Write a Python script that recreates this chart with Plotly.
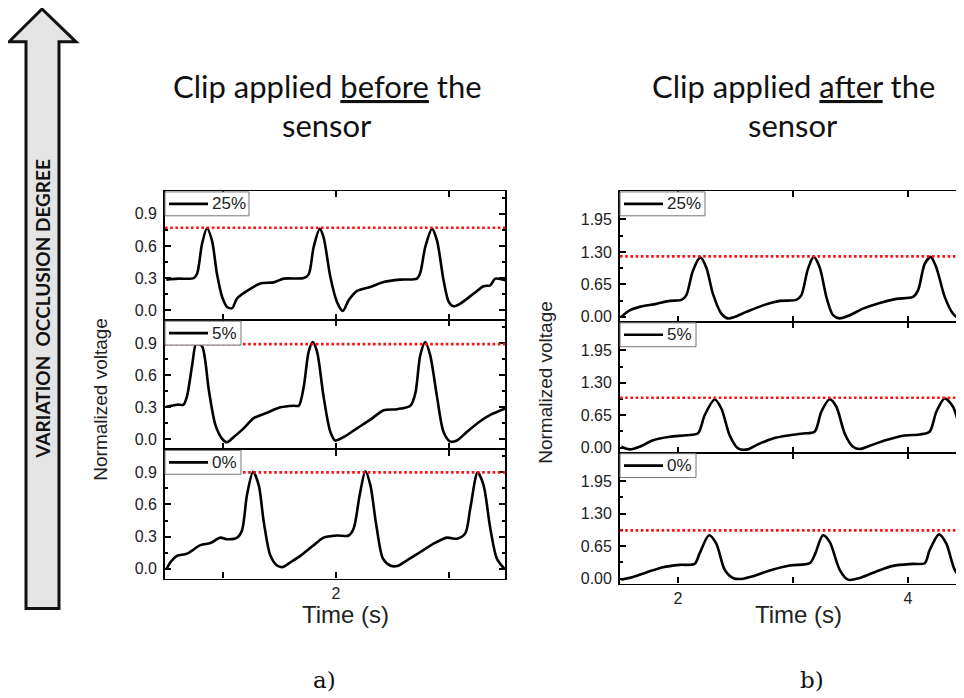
import plotly.graph_objects as go

# a pagina tem margem de 8px no body, entao a figura comeca em (8, 8)
OFF = 8
W, H = 964 - OFF + 4, 698 - OFF

# ---- dados ----
labels = ["25%", "5%", "0%"]

# a) clip antes do sensor
t_before_25 = [1.249, 1.30, 1.37, 1.385, 1.407, 1.429, 1.451, 1.473, 1.496, 1.518, 1.54, 1.562, 1.606, 1.665,
               1.724, 1.768, 1.857, 1.879, 1.901, 1.928, 1.945, 1.975, 2.004, 2.03, 2.056, 2.093, 2.152, 2.211,
               2.285, 2.358, 2.373, 2.395, 2.425, 2.447, 2.476, 2.499, 2.52, 2.55, 2.609, 2.653, 2.683, 2.705, 2.749]
v_before_25 = [0.286, 0.295, 0.30, 0.34, 0.62, 0.765, 0.65, 0.34, 0.124, 0.031, 0.019, 0.11, 0.18, 0.25,
               0.26, 0.295, 0.30, 0.335, 0.59, 0.76, 0.68, 0.31, 0.078, -0.006, 0.093, 0.18, 0.217, 0.264,
               0.286, 0.295, 0.35, 0.59, 0.76, 0.65, 0.28, 0.078, 0.037, 0.062, 0.155, 0.224, 0.233, 0.295, 0.28]

t_before_5 = [1.249, 1.296, 1.325, 1.34, 1.363, 1.382, 1.407, 1.437, 1.466, 1.496, 1.518, 1.547, 1.591, 1.636,
              1.695, 1.754, 1.813, 1.835, 1.857, 1.879, 1.897, 1.916, 1.945, 1.975, 1.997, 2.034, 2.093, 2.152,
              2.211, 2.27, 2.329, 2.351, 2.373, 2.395, 2.417, 2.447, 2.476, 2.506, 2.535, 2.579, 2.638, 2.683, 2.749]
v_before_5 = [0.305, 0.325, 0.325, 0.40, 0.69, 0.9, 0.87, 0.46, 0.136, 0.006, -0.026, 0.023, 0.104, 0.20,
              0.25, 0.30, 0.315, 0.315, 0.49, 0.82, 0.91, 0.82, 0.40, 0.07, -0.01, 0.023, 0.104, 0.185,
              0.273, 0.283, 0.315, 0.43, 0.786, 0.91, 0.786, 0.40, 0.07, -0.02, -0.01, 0.07, 0.17, 0.23, 0.29]

t_before_0 = [1.249, 1.267, 1.296, 1.34, 1.40, 1.444, 1.488, 1.518, 1.562, 1.584, 1.606, 1.633, 1.658, 1.68,
              1.709, 1.739, 1.765, 1.798, 1.842, 1.901, 1.945, 2.004, 2.056, 2.078, 2.105, 2.13, 2.152, 2.178,
              2.208, 2.24, 2.27, 2.314, 2.373, 2.432, 2.491, 2.535, 2.572, 2.594, 2.627, 2.653, 2.683, 2.712, 2.745]
v_before_0 = [-0.006, 0.06, 0.12, 0.14, 0.22, 0.24, 0.29, 0.275, 0.29, 0.36, 0.69, 0.906, 0.78, 0.44,
              0.125, 0.03, 0.016, 0.06, 0.12, 0.22, 0.29, 0.31, 0.31, 0.375, 0.69, 0.91, 0.78, 0.41,
              0.094, 0.03, 0.025, 0.078, 0.156, 0.234, 0.29, 0.28, 0.33, 0.56, 0.9, 0.78, 0.375, 0.094, 0.0]

ref_before = [0.77, 0.89, 0.9]

# b) clip depois do sensor
t_after_25 = [1.507, 1.58, 1.667, 1.812, 1.928, 2.03, 2.072, 2.13, 2.194, 2.246, 2.304, 2.377, 2.435, 2.493,
              2.594, 2.739, 2.884, 3.029, 3.072, 3.13, 3.18, 3.232, 3.29, 3.348, 3.406, 3.493, 3.609, 3.754,
              3.899, 4.043, 4.087, 4.145, 4.197, 4.246, 4.319, 4.391, 4.449, 4.51]
v_after_25 = [0.0, 0.13, 0.2, 0.26, 0.32, 0.34, 0.43, 0.925, 1.19, 0.99, 0.46, 0.066, -0.03, 0.0,
              0.1, 0.23, 0.32, 0.34, 0.43, 0.96, 1.2, 0.99, 0.40, 0.033, -0.03, 0.033, 0.165, 0.28,
              0.36, 0.4, 0.53, 1.06, 1.2, 0.99, 0.40, 0.066, -0.03, -0.02]

t_after_5 = [1.507, 1.58, 1.667, 1.783, 1.928, 2.072, 2.174, 2.232, 2.319, 2.377, 2.449, 2.522, 2.609, 2.681,
             2.826, 2.971, 3.087, 3.188, 3.246, 3.319, 3.377, 3.449, 3.522, 3.58, 3.667, 3.812, 3.957, 4.101,
             4.188, 4.246, 4.319, 4.391, 4.478, 4.51]
v_after_5 = [0.02, -0.033, 0.02, 0.15, 0.22, 0.25, 0.29, 0.65, 0.965, 0.785, 0.25, -0.013, -0.033, 0.053,
             0.186, 0.25, 0.286, 0.32, 0.72, 0.97, 0.82, 0.286, 0.02, -0.027, 0.04, 0.153, 0.24, 0.266,
             0.32, 0.72, 0.985, 0.82, 0.186, 0.06]

t_after_0 = [1.507, 1.609, 1.725, 1.87, 2.014, 2.145, 2.188, 2.27, 2.333, 2.406, 2.478, 2.551, 2.652, 2.797,
             2.971, 3.145, 3.188, 3.261, 3.319, 3.406, 3.478, 3.58, 3.725, 3.87, 4.043, 4.145, 4.188, 4.27,
             4.333, 4.406, 4.478, 4.51]
v_after_0 = [-0.02, 0.033, 0.125, 0.23, 0.276, 0.295, 0.505, 0.867, 0.70, 0.177, 0.013, -0.007, 0.046, 0.164,
             0.263, 0.309, 0.47, 0.867, 0.735, 0.177, -0.02, 0.013, 0.144, 0.256, 0.295, 0.309, 0.57, 0.886,
             0.70, 0.177, -0.02, -0.02]

ref_after = [1.21, 1.0, 0.965]

yticks_before = [0.0, 0.3, 0.6, 0.9]
yticks_after = [0.0, 0.65, 1.30, 1.95]
xticks_before = [1.5, 2, 2.5]
xtext_before = ["", "2", ""]
xticks_after = [2, 3, 4]
xtext_after = ["2", "", "4"]


# pixel da tela -> coordenada paper
def px(x):
    return (x - OFF) / W


def py(y):
    return 1 - (y - OFF) / H


TICKFONT = dict(family="Liberation Sans, Arial", size=16, color="#222")

# geometria dos paineis (pixels da tela); o painel b) continua alem da borda da imagem
left_x = (165, 505)
right_x = (620, 966)
left_rows = [(192, 322), (322, 452), (452, 582)]
right_rows = [(192, 323.7), (323.7, 455.3), (455.3, 587)]

panels = [
    (t_before_25, v_before_25, ref_before[0], left_x, left_rows[0], "L", 84),
    (t_before_5, v_before_5, ref_before[1], left_x, left_rows[1], "L", 76),
    (t_before_0, v_before_0, ref_before[2], left_x, left_rows[2], "L", 76),
    (t_after_25, v_after_25, ref_after[0], right_x, right_rows[0], "R", 85),
    (t_after_5, v_after_5, ref_after[1], right_x, right_rows[1], "R", 76),
    (t_after_0, v_after_0, ref_after[2], right_x, right_rows[2], "R", 76),
]

fig = go.Figure()
shapes = []
annotations = []

for i, (t, v, ref, xs, ys, side, boxw) in enumerate(panels):
    n = "" if i == 0 else str(i + 1)
    xa, ya = "x" + n, "y" + n
    fig.add_trace(go.Scatter(x=t, y=v, mode="lines", xaxis=xa, yaxis=ya, showlegend=False,
                             line=dict(color="black", width=2.6, shape="spline", smoothing=0.8)))
    # linha vermelha de referencia
    shapes.append(dict(type="line", xref=xa + " domain", yref=ya, x0=0, x1=1, y0=ref, y1=ref,
                       line=dict(color="#ff1010", width=2.6, dash="2.6px,2.6px"), layer="above"))

    bottom = i in (2, 5)
    if side == "L":
        xr, yr = [1.243, 2.748], [-0.093, 1.114]
        xt, xtt, ytv, yfmt, ymin = xticks_before, xtext_before, yticks_before, ".1f", 0.15
    else:
        xr, yr = [1.496, 4.504], [-0.1, 2.52]
        xt, xtt, ytv, yfmt, ymin = xticks_after, xtext_after, yticks_after, ".2f", 0.325

    axis_common = dict(showline=True, linecolor="black", mirror="ticks", ticks="inside",
                       tickcolor="black", tickwidth=1.5, ticklen=6, showgrid=False, zeroline=False,
                       tickfont=TICKFONT)
    fig.layout["xaxis" + n] = dict(axis_common, linewidth=1.4, domain=[px(xs[0]), px(xs[1])], range=xr,
                                   anchor=ya, tickvals=xt, ticktext=xtt, showticklabels=bottom)
    fig.layout["yaxis" + n] = dict(axis_common, linewidth=1.8, domain=[py(ys[1]), py(ys[0])], range=yr,
                                   anchor=xa, tickvals=ytv, tickformat=yfmt, ticklabelstandoff=3,
                                   minor=dict(dtick=ymin, tick0=0, ticks="inside", ticklen=3,
                                              tickcolor="black", tickwidth=1.5))

    # caixa da legenda estilo Origin
    x0, y0 = xs[0], ys[0]
    shapes.append(dict(type="rect", xref="paper", yref="paper", x0=px(x0), x1=px(x0 + boxw),
                       y0=py(y0 + 25), y1=py(y0 + 1), line=dict(color="#777", width=1), fillcolor="white"))
    shapes.append(dict(type="line", xref="paper", yref="paper", x0=px(x0 + 4), x1=px(x0 + 43),
                       y0=py(y0 + 13), y1=py(y0 + 13), line=dict(color="black", width=2.6)))
    annotations.append(dict(x=px(x0 + 45), y=py(y0 + 13), text=labels[i % 3], xanchor="left",
                            font=dict(family="Liberation Sans, Arial", size=17, color="#222")))

# seta de variacao do grau de oclusao
pts = [(26, 612), (26, 42), (9, 42), (42, 9), (76, 42), (59, 42), (59, 612)]
path = "M " + " L ".join(f"{px(a):.5f},{py(b):.5f}" for a, b in pts) + " Z"
shapes.append(dict(type="path", xref="paper", yref="paper", path=path, fillcolor="#e4e4e4",
                   line=dict(color="#111", width=3), layer="below"))
annotations.append(dict(x=px(42.5), y=py(311), textangle=-90,
                        text="<b>VARIATION\u00a0 OCCLUSION DEGREE</b>",
                        font=dict(family="Lato, Open Sans", size=19, color="#111")))

# titulos
TITLEFONT = dict(family="Lato, Open Sans", size=31, color="#111")
annotations += [
    dict(x=px(327), y=py(86), text="Clip applied <u>before</u> the", font=TITLEFONT),
    dict(x=px(327), y=py(126), text="sensor", font=TITLEFONT),
    dict(x=px(793), y=py(86), text="Clip applied <u>after</u> the", font=TITLEFONT),
    dict(x=px(793), y=py(126), text="sensor", font=TITLEFONT),
]

# titulos dos eixos
AXFONT = dict(family="Liberation Sans, Arial", size=19, color="#222")
TIMEFONT = dict(family="Liberation Sans, Arial", size=24, color="#222")
annotations += [
    dict(x=px(101), y=py(402), text="Normalized voltage", textangle=-90, font=AXFONT),
    dict(x=px(546), y=py(385), text="Normalized voltage", textangle=-90, font=AXFONT),
    dict(x=px(345), y=py(618), text="Time (s)", font=TIMEFONT),
    dict(x=px(798), y=py(618), text="Time (s)", font=TIMEFONT),
]

# a) e b)
LABFONT = dict(family="DejaVu Serif, Liberation Serif", size=23, color="#111")
annotations += [
    dict(x=px(324), y=py(684), text="a)", font=LABFONT),
    dict(x=px(812), y=py(684), text="b)", font=LABFONT),
]

for a in annotations:
    a.setdefault("xref", "paper")
    a.setdefault("yref", "paper")
    a.setdefault("xanchor", "center")
    a.setdefault("yanchor", "middle")
    a.setdefault("showarrow", False)

fig.update_layout(width=W, height=H, margin=dict(l=0, r=0, t=0, b=0), plot_bgcolor="white",
                  paper_bgcolor="white", shapes=shapes, annotations=annotations)

fig.write_html("out.html")
